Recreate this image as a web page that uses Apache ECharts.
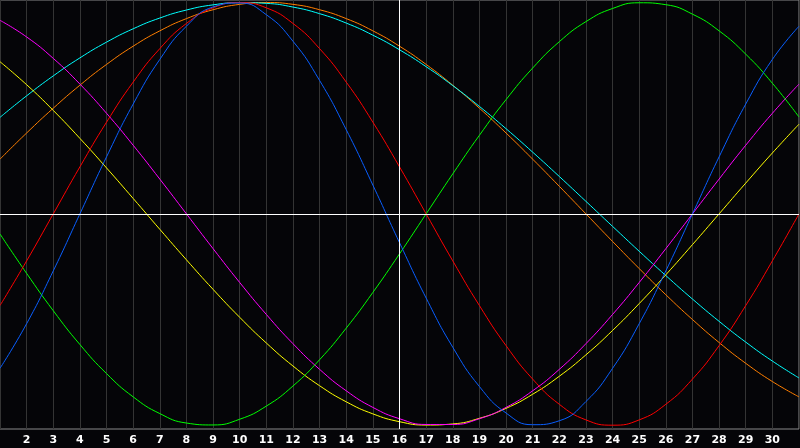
<!DOCTYPE html>
<html>
<head>
<meta charset="utf-8">
<script src="https://cdn.jsdelivr.net/npm/echarts@6/dist/echarts.min.js"></script>
<style>
html,body{margin:0;padding:0;background:#050508;}
#chart{width:800px;height:448px;}
</style>
</head>
<body>
<div id="chart"></div>
<script>
// Days of the month shown on the x axis
const days = [1,2,3,4,5,6,7,8,9,10,11,12,13,14,15,16,17,18,19,20,21,22,23,24,25,26,27,28,29,30,31];
const today = 16;

// Cycle values (range -1..1)
const physical = [-0.7308,-0.5196,-0.2698,0,0.2698,0.5196,0.7308,0.8880,0.9791,0.9977,0.9423,0.8170,0.6311,0.3984,0.1362,-0.1362,-0.3984,-0.6311,-0.8170,-0.9423,-0.9977,-0.9791,-0.8880,-0.7308,-0.5196,-0.2698,0,0.2698,0.5196,0.7308,0.8880];
const emotional = [-0.4339,-0.2225,0,0.2225,0.4339,0.6235,0.7818,0.9010,0.9749,1,0.9749,0.9010,0.7818,0.6235,0.4339,0.2225,0,-0.2225,-0.4339,-0.6235,-0.7818,-0.9010,-0.9749,-1,-0.9749,-0.9010,-0.7818,-0.6235,-0.4339,-0.2225,0];
const intellectual = [-0.0951,-0.2817,-0.4582,-0.6182,-0.7557,-0.8660,-0.9450,-0.9898,-0.9989,-0.9718,-0.9096,-0.8146,-0.6901,-0.5406,-0.3717,-0.1893,0,0.1893,0.3717,0.5406,0.6901,0.8146,0.9096,0.9718,0.9989,0.9898,0.9450,0.8660,0.7557,0.6182,0.4582];
const intuitive = [0.9158,0.8372,0.7357,0.6142,0.4759,0.3247,0.1646,0,-0.1646,-0.3247,-0.4759,-0.6142,-0.7357,-0.8372,-0.9158,-0.9694,-0.9966,-0.9966,-0.9694,-0.9158,-0.8372,-0.7357,-0.6142,-0.4759,-0.3247,-0.1646,0,0.1646,0.3247,0.4759,0.6142];
const aesthetic = [0.7199,0.6111,0.4894,0.3572,0.2174,0.0730,-0.0730,-0.2174,-0.3572,-0.4894,-0.6111,-0.7199,-0.8133,-0.8893,-0.9464,-0.9834,-0.9993,-0.9940,-0.9674,-0.9204,-0.8535,-0.7684,-0.6671,-0.5517,-0.4245,-0.2881,-0.1456,0,0.1456,0.2881,0.4245];
const awareness = [0.2588,0.3827,0.5,0.6088,0.7071,0.7934,0.8660,0.9239,0.9659,0.9914,1,0.9914,0.9659,0.9239,0.8660,0.7934,0.7071,0.6088,0.5,0.3827,0.2588,0.1305,0,-0.1305,-0.2588,-0.3827,-0.5,-0.6088,-0.7071,-0.7934,-0.8660];
const spiritual = [0.4566,0.5586,0.6529,0.7380,0.8126,0.8758,0.9267,0.9646,0.9890,0.9996,0.9961,0.9786,0.9473,0.9028,0.8456,0.7765,0.6965,0.6068,0.5085,0.4031,0.2920,0.1769,0.0592,-0.0592,-0.1769,-0.2920,-0.4031,-0.5085,-0.6068,-0.6965,-0.7765];

const seriesDefs = [
  {name:'Awareness', data: awareness, color:'#ff7f00'},
  {name:'Spiritual', data: spiritual, color:'#00ffff'},
  {name:'Aesthetic', data: aesthetic, color:'#ffff00'},
  {name:'Intuitive', data: intuitive, color:'#ff00ff'},
  {name:'Intellectual', data: intellectual, color:'#00ff00'},
  {name:'Emotional', data: emotional, color:'#ff0000'},
  {name:'Physical', data: physical, color:'#0a5fff'}
];

const chart = echarts.init(document.getElementById('chart'), null, {renderer:'canvas'});
const series = seriesDefs.map(s => ({
  name: s.name,
  type: 'line',
  data: days.map((d,i) => [d, s.data[i]]),
  smooth: true,
  showSymbol: false,
  symbol: 'none',
  silent: true,
  lineStyle: {color: s.color, width: 1},
  itemStyle: {color: s.color},
  z: 3
}));
series.push({
  type: 'line',
  data: [],
  silent: true,
  markLine: {
    silent: true,
    symbol: ['none','none'],
    label: {show: false},
    lineStyle: {color: '#ffffff', width: 1, type: 'solid'},
    data: [{xAxis: today}, {yAxis: 0}]
  },
  z: 2
});

chart.setOption({
  backgroundColor: '#050508',
  animation: false,
  grid: {left: 0, right: 1, top: 0, bottom: 19, show: true, borderColor: '#8a8a8a', borderWidth: 1, backgroundColor: 'transparent'},
  xAxis: {
    type: 'value', min: 1, max: 31, interval: 1,
    axisLine: {show: false},
    axisTick: {show: false},
    splitLine: {show: true, lineStyle: {color: '#343434', width: 1}},
    axisLabel: {
      color: '#ffffff', fontWeight: 'bold', fontSize: 11, fontFamily: 'DejaVu Sans',
      margin: 6, showMinLabel: false, showMaxLabel: false,
      formatter: v => (v === 1 || v === 31) ? '' : String(v)
    }
  },
  yAxis: {
    type: 'value', min: -1.018, max: 1.012,
    axisLine: {show: false}, axisTick: {show: false}, axisLabel: {show: false},
    splitLine: {show: false}
  },
  series: series
});
</script>
</body>
</html>
